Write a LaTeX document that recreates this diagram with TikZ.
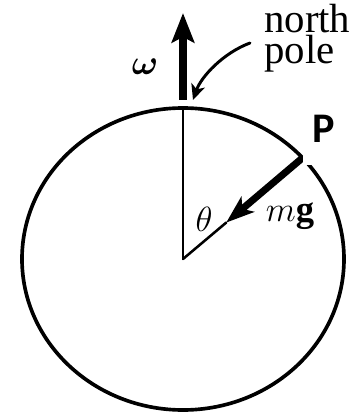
\documentclass[tikz,border=0pt]{standalone}
\usepackage{bm}
\usepackage{fontspec}
\setmainfont{Liberation Serif}
\newfontfamily\pfont{Carlito}
\usetikzlibrary{arrows.meta}

\begin{document}
\begin{tikzpicture}[line cap=round, line join=round,
	vecarrow/.style={line width=5pt, line cap=butt, -{Stealth[length=20pt, width=14pt, inset=5pt]}},
	spinarrow/.style={line width=5.7pt, line cap=butt, -{Stealth[length=21pt, width=16pt, inset=4pt]}},
	pointer/.style={line width=2.1pt, -{Stealth[length=11pt, width=10pt, inset=3pt]}},
	bigmath/.style={font=\fontsize{26}{30}\selectfont, inner sep=1pt}]
	
	\useasboundingbox (-4.575,-3.825) rectangle (4.45,6.475);
	
	% ---------- Earth ----------
	\draw[line width=2.6pt] (0,0) ellipse (4.025 and 3.775);
	\coordinate (O) at (0,0);
	\coordinate (N) at (0,3.775);
	\coordinate (P) at (2.99,2.53);
	\coordinate (tip) at (1.08,0.91);
	
	% polar axis and radius to P
	\draw[line width=1.8pt] (O) -- (N);
	\draw[line width=1.8pt] (O) -- (tip);
	
	% weight vector at P
	\draw[vecarrow] (P) -- (tip);
	\node[bigmath] (theta) at (0.525,1.0) {$\theta$};
	\node[bigmath] (mg) at (2.675,1.075) {$m\mathbf{g}$};
	
	% ---------- rotation vector ----------
	\coordinate (wbase) at (0,3.975);
	\coordinate (wtop) at (0,6.15);
	\draw[spinarrow] (wbase) -- (wtop);
	\node[bigmath] (omega) at (-0.95,4.8) {$\bm{\omega}$};
	
	% ---------- north pole label ----------
	\node[font=\fontsize{29}{22}\selectfont, align=left, anchor=base west, inner sep=0pt]
	(np) at (2.025,4.9) {north\\pole};
	\coordinate (npstart) at (1.675,5.4);
	\coordinate (npend) at (0.25,3.975);
	\draw[pointer] (npstart) .. controls (1.0,5.15) and (0.45,4.55) .. (npend);
	
	% ---------- point P ----------
	\fill[white] (3.0,2.35) rectangle (4.3,3.775);
	\node[font=\pfont\bfseries\fontsize{30}{34}\selectfont, inner sep=0pt] (Plabel) at (3.525,3.25) {P};
	
\end{tikzpicture}
\end{document}
